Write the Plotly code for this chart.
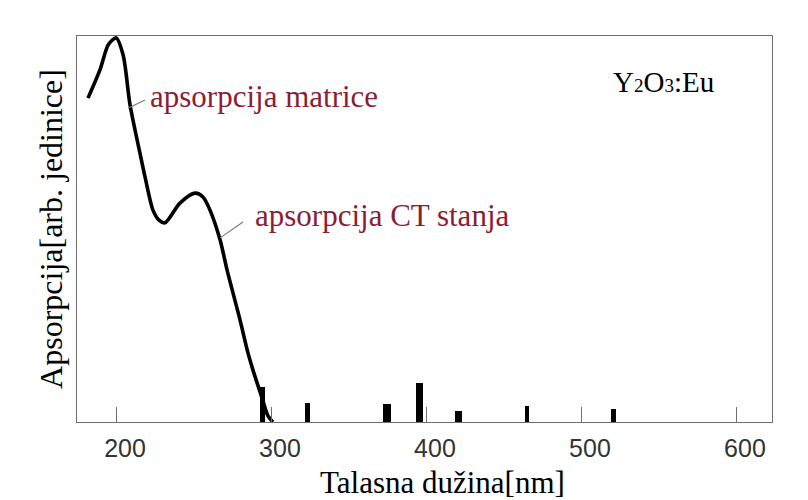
import plotly.graph_objects as go

# ---- data ----
curve_nm = [181.3, 189.0, 194.5, 199.5, 204.0, 208.4, 214.8, 218.1, 223.2, 227.1, 231.0,
            240.6, 250.3, 255.5, 260.0, 266.5, 271.0, 279.4, 284.5, 287.7, 294.0, 297.5, 300.6]
curve_abs = [0.839, 0.912, 0.978, 0.995, 0.950, 0.822, 0.697, 0.635, 0.549, 0.523, 0.516,
             0.567, 0.593, 0.583, 0.549, 0.472, 0.394, 0.264, 0.179, 0.135, 0.057, 0.015, 0.0]

line_nm = [294.0, 322.8, 374.0, 395.3, 420.2, 464.5, 520.6]
line_abs = [0.091, 0.050, 0.047, 0.101, 0.029, 0.041, 0.034]

x_ticks = [200, 300, 400, 500, 600]
x_tick_labels = ["200", "300", "400", "500", "600"]

label_matrix = "apsorpcija matrice"
label_ct = "apsorpcija CT stanja"
sample_label = ('Y<span style="font-size:19px">2</span>O'
                '<span style="font-size:19px">3</span>:Eu')
x_title = "Talasna dužina[nm]"
y_title = "Apsorpcija[arb. jedinice]"

# ---- styles ----
bar_widths_nm = [3.5, 3.2, 5.0, 4.5, 4.3, 2.8, 3.2]
RED = "#8c1d33"
FRAME = "#6e6e6e"
SERIF = "Liberation Serif, Times New Roman, serif"

fig = go.Figure()
fig.add_trace(go.Bar(x=line_nm, y=line_abs, width=bar_widths_nm,
                     marker=dict(color="black", line=dict(width=0)),
                     showlegend=False, hoverinfo="x+y"))
fig.add_trace(go.Scatter(x=curve_nm, y=curve_abs, mode="lines",
                         line=dict(color="black", width=3.6, shape="spline", smoothing=0.8),
                         showlegend=False))

# pointer lines
fig.add_shape(type="line", x0=207.1, y0=0.813, x1=218.1, y1=0.834,
              line=dict(color="#7a7a7a", width=1.2))
fig.add_shape(type="line", x0=266.5, y0=0.477, x1=281.3, y1=0.518,
              line=dict(color="#7a7a7a", width=1.2))

fig.add_annotation(x=220.0, y=0.842, text=label_matrix, showarrow=False,
                   xanchor="left", yanchor="middle",
                   font=dict(family=SERIF, size=31, color=RED))
fig.add_annotation(x=288.0, y=0.534, text=label_ct, showarrow=False,
                   xanchor="left", yanchor="middle",
                   font=dict(family=SERIF, size=31, color=RED))
fig.add_annotation(x=519, y=0.88, text=sample_label, showarrow=False,
                   xanchor="left", yanchor="middle",
                   font=dict(family=SERIF, size=29, color="black"))

# x axis title
fig.add_annotation(xref="paper", yref="paper", x=0.5255, y=-0.156, text=x_title,
                   showarrow=False, xanchor="center", yanchor="middle",
                   font=dict(family=SERIF, size=31, color="black"))

# the page adds an 8px body margin, so the figure is 8px smaller and margins shifted
fig.update_layout(
    width=800, height=492,
    margin=dict(l=69, r=36, t=28, b=78),
    paper_bgcolor="white", plot_bgcolor="white",
    bargap=0,
)
fig.update_xaxes(range=[174.2, 622.6], tickvals=x_ticks, ticktext=x_tick_labels,
                 ticks="inside", ticklen=15, tickwidth=1, tickcolor=FRAME,
                 showline=True, linecolor=FRAME, linewidth=1, mirror=True,
                 showgrid=False, zeroline=False,
                 tickfont=dict(family="Liberation Sans, Arial, sans-serif", size=25, color="#333333"),
                 ticklabelshift=8, ticklabelstandoff=4)
fig.update_yaxes(range=[0, 1], showticklabels=False, ticks="",
                 showline=True, linecolor=FRAME, linewidth=1, mirror=True,
                 showgrid=False, zeroline=False,
                 title=dict(text=y_title, font=dict(family=SERIF, size=32, color="black"),
                            standoff=3))

fig.write_html("out.html")
